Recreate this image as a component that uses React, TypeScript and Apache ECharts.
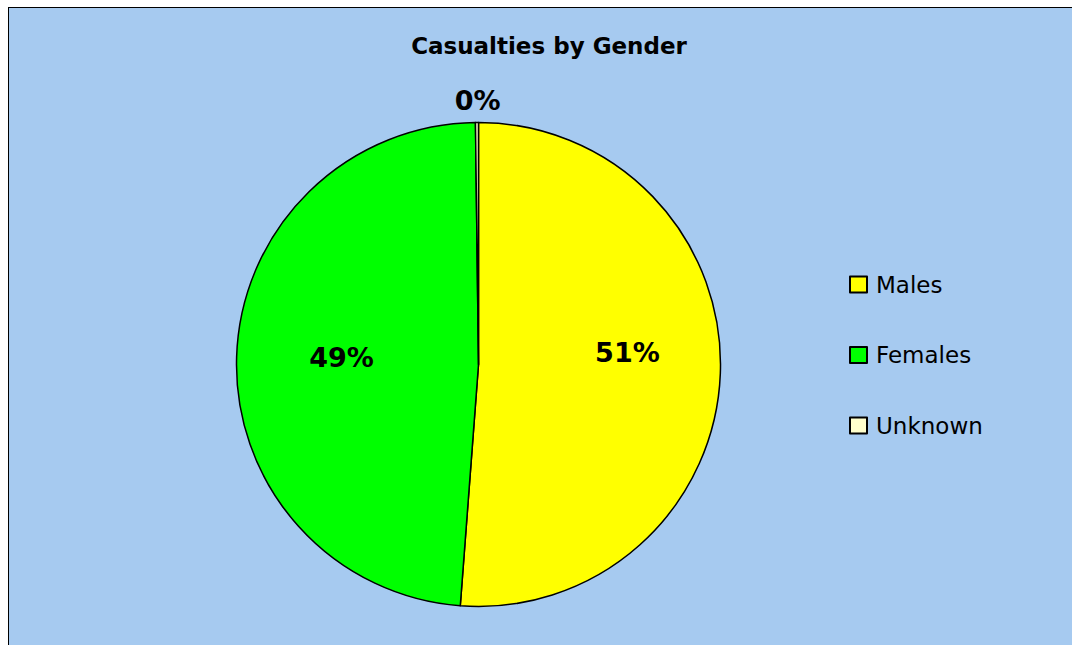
import React, { useEffect, useRef } from "react";
import * as echarts from "echarts";

const categories = ["Males", "Females", "Unknown"];
const values = [51.2, 48.6, 0.2];
const colors = ["#FFFF00", "#00FF00", "#FFFFCC"];
const labelOffsets: [number, number][] = [
  [25, -17],
  [-13, -3],
  [0, -140],
];

const FONT = "'DejaVu Sans', sans-serif";

export default function App() {
  const ref = useRef<HTMLDivElement>(null);
  useEffect(() => {
    if (!ref.current) return;
    const chart = echarts.init(ref.current, undefined, { renderer: "svg" });
    chart.setOption({
      animation: false,
      backgroundColor: "#A6CAF0",
      title: {
        text: "Casualties by Gender",
        left: 540,
        top: 26,
        textAlign: "center",
        padding: 0,
        textStyle: {
          fontFamily: FONT,
          fontSize: 23,
          fontWeight: "bold",
          color: "#000",
        },
      },
      legend: {
        orient: "vertical",
        left: 840,
        top: 265,
        padding: 0,
        itemWidth: 17,
        itemHeight: 16,
        itemGap: 47.5,
        icon: "rect",
        data: categories,
        textStyle: {
          fontFamily: FONT,
          fontSize: 23,
          color: "#000",
          padding: [0, 0, 0, 4],
        },
      },
      series: [
        {
          type: "pie",
          center: [469.5, 356.5],
          radius: 242,
          startAngle: 90,
          clockwise: true,
          avoidLabelOverlap: false,
          percentPrecision: 0,
          itemStyle: { borderColor: "#000", borderWidth: 1.5 },
          emphasis: { disabled: true },
          labelLine: { show: false },
          label: {
            show: true,
            position: "inside",
            formatter: "{d}%",
            fontFamily: FONT,
            fontSize: 27,
            fontWeight: "bold",
            color: "#000",
          },
          data: categories.map((name, i) => ({
            name,
            value: values[i],
            itemStyle: { color: colors[i] },
            label: { offset: labelOffsets[i] },
          })),
        },
      ],
    });
    return () => chart.dispose();
  }, []);
  return (
    <div
      style={{
        position: "fixed",
        left: 8,
        top: 7,
        width: 1064,
        height: 638,
        boxSizing: "border-box",
        borderLeft: "1px solid #000",
        borderTop: "1px solid #000",
        background: "#A6CAF0",
      }}
    >
      <div ref={ref} style={{ width: 1063, height: 637 }} />
    </div>
  );
}
